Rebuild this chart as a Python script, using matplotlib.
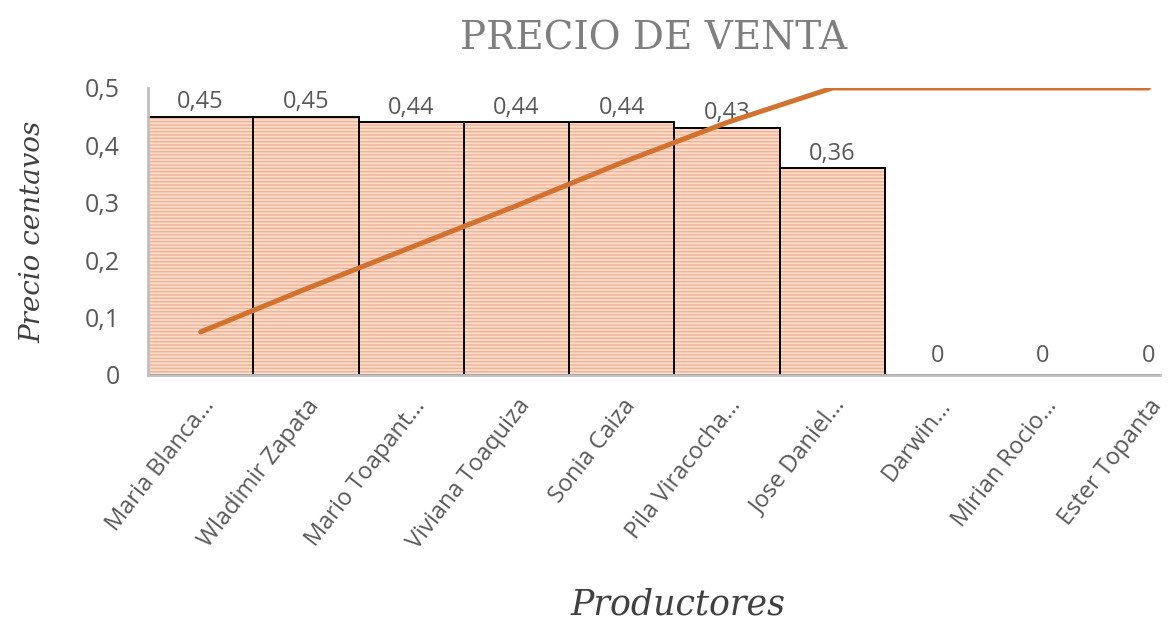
import matplotlib.pyplot as plt

productores = ["Maria Blanca…", "Wladimir Zapata", "Mario Toapant…", "Viviana Toaquiza",
               "Sonia Caiza", "Pila Viracocha…", "Jose Daniel…", "Darwin…",
               "Mirian Rocio…", "Ester Topanta"]
precio = [0.45, 0.45, 0.44, 0.44, 0.44, 0.43, 0.36, 0, 0, 0]
# porcentaje acumulado (eje secundario, 0 a 1)
acumulado = [0.15, 0.30, 0.445, 0.59, 0.74, 0.88, 1.0, 1.0, 1.0, 1.0]
yticks = [0, 0.1, 0.2, 0.3, 0.4, 0.5]
ytick_labels = ["0", "0,1", "0,2", "0,3", "0,4", "0,5"]

gris = "#595959"
sans = ["Open Sans", "DejaVu Sans"]
serif = ["DejaVu Serif"]

plt.rcParams['hatch.linewidth'] = 1.0

fig = plt.figure(figsize=(11.68, 6.28), dpi=100)
ax = fig.add_axes([0.1267, 0.4029, 0.8664, 0.457])

x = range(len(productores))
# relleno rayado y luego el borde negro encima
ax.bar(x, precio, width=1.0, color="#FADCCB", edgecolor="#F2B294", hatch="-----", linewidth=0)
ax.bar(x, precio, width=1.0, fill=False, edgecolor="black", linewidth=1.4)

for i, v in enumerate(precio):
    etiqueta = ("%.2f" % v).replace(".", ",") if v else "0"
    ax.annotate(etiqueta, (i, v), textcoords="offset points", xytext=(0, 2 if v else 5),
                ha="center", va="bottom", fontsize=17, color=gris, family=sans)

ax.set_xlim(-0.5, 9.11)
ax.set_ylim(0, 0.5)
ax.set_yticks(yticks)
ax.set_yticklabels(ytick_labels, fontsize=18, color=gris, family=sans)
ax.set_xticks(list(x))
ax.set_xticklabels(productores, rotation=52, ha="right", va="top", rotation_mode="anchor",
                   fontsize=17, color=gris, family=sans)
ax.tick_params(axis="both", length=0)
ax.tick_params(axis="y", pad=20)
ax.tick_params(axis="x", pad=14)

for s in ["top", "right"]:
    ax.spines[s].set_visible(False)
for s in ["left", "bottom"]:
    ax.spines[s].set_color("#BFBFBF")
    ax.spines[s].set_linewidth(2)

ax.set_ylabel("Precio centavos", fontsize=20, style="italic", family=serif, color="#404040")
ax.yaxis.set_label_coords(-0.1, 0.5)
ax.set_xlabel("Productores", fontsize=25, style="italic", family=serif, color="#404040")
ax.xaxis.set_label_coords(0.524, -0.74)

ax.set_title("PRECIO DE VENTA", fontsize=28, family=serif, color="#7F7F7F", pad=28)

# linea de pareto en eje secundario oculto
ax2 = ax.twinx()
ax2.plot(list(x), acumulado, color="#D2722E", linewidth=3.6, solid_capstyle="round")
ax2.set_ylim(0, 1.0)
ax2.axis("off")

fig.savefig("out.png", dpi=100)
